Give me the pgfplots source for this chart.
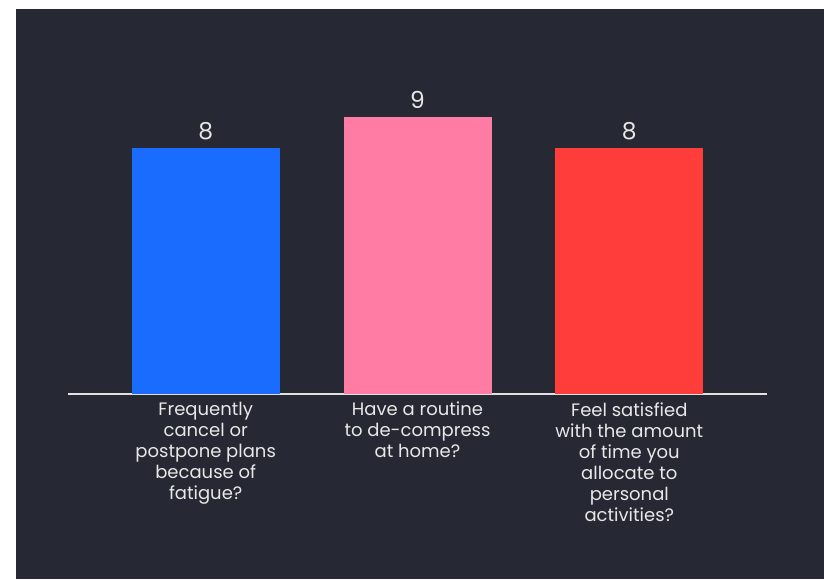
\documentclass[border=0pt]{standalone}
\usepackage{pgfplots}
\pgfplotsset{compat=1.18}
\usepackage{fontspec}
\setmainfont{Poppins}
\usetikzlibrary{backgrounds,calc}
\definecolor{bg}{RGB}{38,41,51}
\definecolor{cblue}{RGB}{26,108,255}
\definecolor{cpink}{RGB}{255,125,165}
\definecolor{cred}{RGB}{255,61,58}
\definecolor{textc}{RGB}{232,232,232}
\definecolor{linec}{RGB}{225,225,225}
\begin{document}
\begin{tikzpicture}
\begin{axis}[
  scale only axis, width=524.25pt, height=288.75pt,
  xmin=-0.65, xmax=2.65, ymin=0, ymax=12.52,
  axis x line=bottom, axis y line=none,
  x axis line style={draw=linec, line width=1.5pt, -},
  xtick={0,1,2}, major tick length=0pt,
  xticklabels={{Frequently\\cancel or\\postpone plans\\because of\\fatigue?},{Have a routine\\to de-compress\\at home?},{Feel satisfied\\with the amount\\of time you\\allocate to\\personal\\activities?}},
  xticklabel style={align=center, text=textc, font=\fontsize{13.5}{15.75}\selectfont, inner sep=0pt, yshift=-6pt},
  ybar, bar width=111pt, bar shift=0pt,
  nodes near coords,
  /pgf/number format/assume math mode=true,
  every node near coord/.append style={text=textc, font=\fontsize{17.5}{20}\selectfont, inner sep=0pt, yshift=6pt},
  clip=false,
]
\addplot[fill=cblue, draw=none] coordinates {(0,8)};
\addplot[fill=cpink, draw=none] coordinates {(1,9)};
\addplot[fill=cred, draw=none] coordinates {(2,8)};
\end{axis}
\coordinate (A) at ($(current axis.south west)+(-51pt,-138.75pt)$);
\coordinate (B) at ($(current axis.north east)+(42.75pt,6.75pt)$);
\coordinate (C) at ($(current axis.south west)+(-39pt,-138.75pt)$);
\coordinate (D) at ($(current axis.north east)+(42.75pt,0pt)$);
\begin{scope}[on background layer]
\fill[white] (A) rectangle (B);
\fill[bg] (C) rectangle (D);
\end{scope}
\pgfresetboundingbox
\path[use as bounding box] (A) rectangle (B);
\end{tikzpicture}
\end{document}
